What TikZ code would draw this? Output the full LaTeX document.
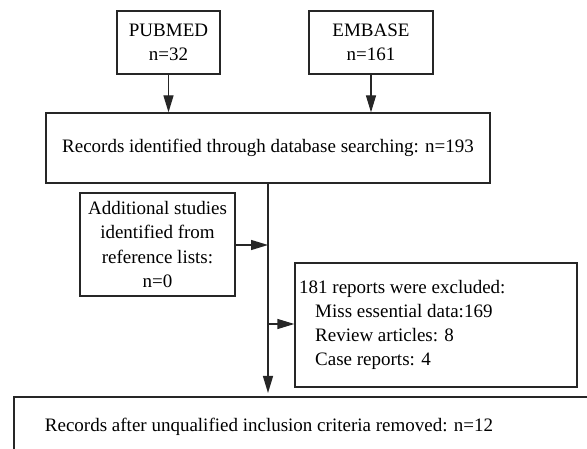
\documentclass[tikz,border=0pt]{standalone}
\usepackage{fontspec}
\setmainfont{Liberation Serif}
\usetikzlibrary{arrows.meta}
\begin{document}
\begin{tikzpicture}[x=1pt,y=-1pt,
  box/.style={draw=black!85,line width=1.3pt,inner sep=0pt,font=\fontsize{19}{24.5}\selectfont,align=center},
  arr/.style={line width=1.3pt,draw=black!85,-{Triangle[length=17pt,width=10pt]}},
  ln/.style={line width=1.3pt,draw=black!85}]
\clip (0,0) rectangle (587,449);
\useasboundingbox (0,0) rectangle (587,449);
\fill[white] (0,0) rectangle (587,449);
\node[box,minimum width=103pt,minimum height=63pt] (pub) at (168.5,42.5) {PUBMED\\n=32};
\node[box,minimum width=124pt,minimum height=63pt] (emb) at (371,42.5) {EMBASE\\n=161};
\node[box,minimum width=444pt,minimum height=70pt] (rec) at (268,148) {Records identified through database searching: n=193};
\node[box,minimum width=155pt,minimum height=103pt] (add) at (157.5,244.5) {Additional studies\\identified from\\reference lists:\\n=0};
\node[box,minimum width=282pt,minimum height=124pt] (exc) at (436,325) {};
\node[font=\fontsize{19}{24}\selectfont,align=left,anchor=west,inner sep=0pt] (exct) at (299,325) {181 reports were excluded:\\\hspace*{16pt}Miss essential data:169\\\hspace*{16pt}Review articles: 8\\\hspace*{16pt}Case reports: 4};
\draw[ln] (14,470) -- (14,397) coordinate (botl) -- (620,397) coordinate (botr);
\node[font=\fontsize{19}{24}\selectfont,inner sep=0pt] (bot) at (269,427) {Records after unqualified inclusion criteria removed: n=12};
\coordinate (bt) at (268,397);
\coordinate (j1) at (268,245);
\coordinate (j2) at (268,324);
\draw[arr] (pub.south) -- (pub.south |- rec.north);
\draw[arr] (emb.south) -- (emb.south |- rec.north);
\draw[arr,shorten >=4pt] (rec.south -| bt) -- (bt);
\draw[arr] (add.east |- j1) -- (j1);
\draw[arr] (j2) -- (j2 -| exc.west);
\end{tikzpicture}
\end{document}
